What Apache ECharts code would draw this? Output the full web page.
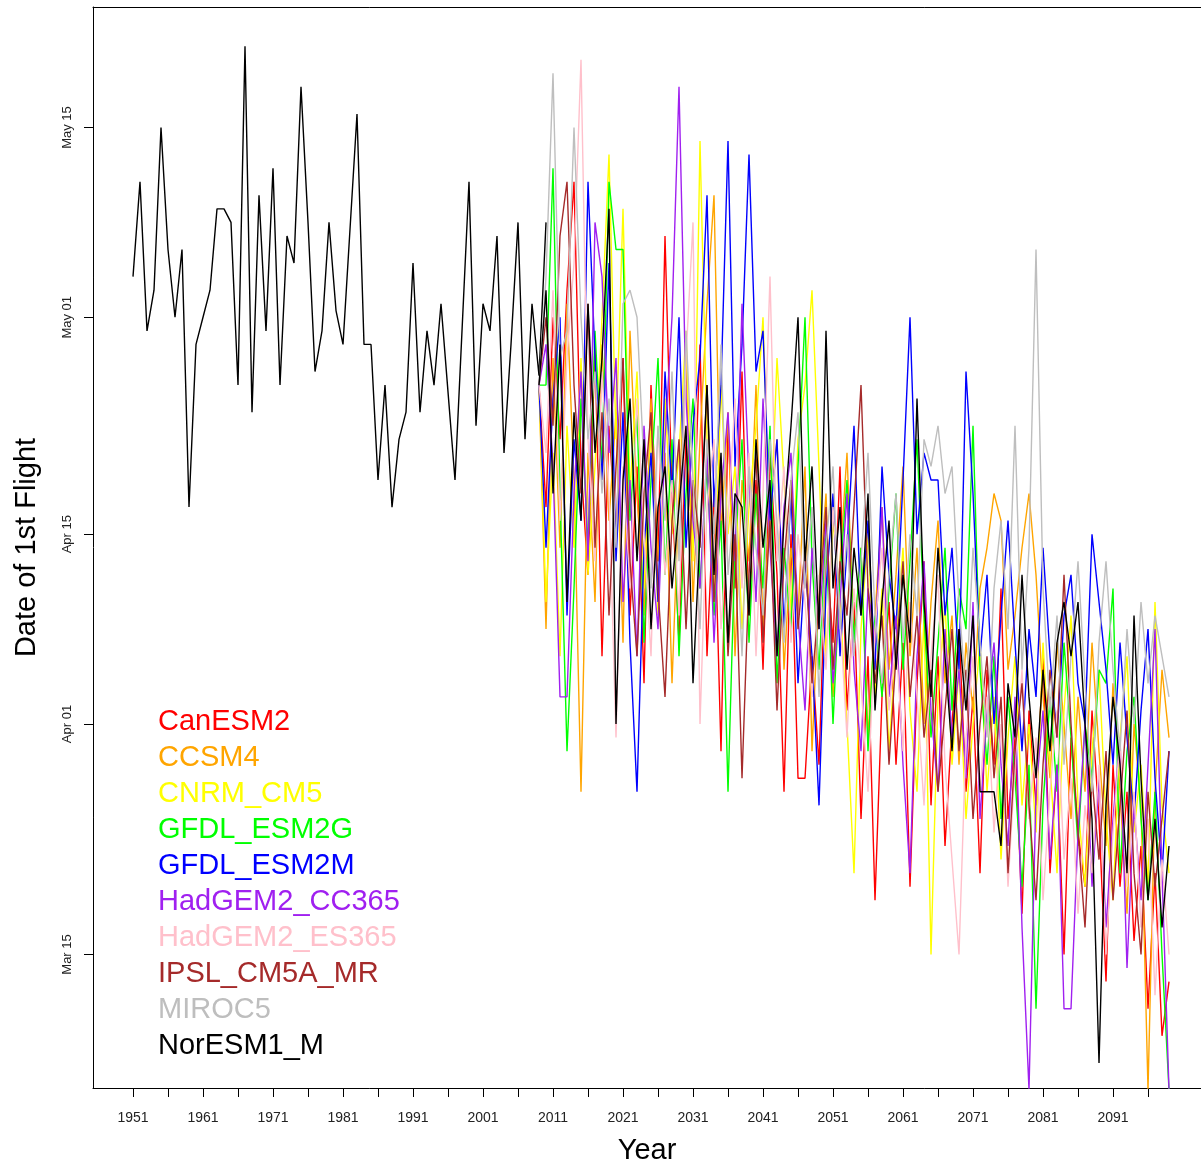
<!DOCTYPE html>
<html><head><meta charset="utf-8">
<script src="https://cdn.jsdelivr.net/npm/echarts@6/dist/echarts.min.js"></script>
<style>html,body{margin:0;padding:0;background:#fff}#c{width:1201px;height:1163px}</style>
</head><body><div id="c"></div>
<script>
// ---- Data (day of year of first flight) ----
const histStart = 1951;
const histValues = [
 124,131,120,123,135,126,121,126,107,119,
 121,123,129,129,128,116,141,114,130,120,
 132,116,127,125,138,128,117,120,128,121.5,
 119,127.5,136,119,119,109,116,107,112,114,
 125,114,120,116,122,115.5,109,120,131,113,
 122,120,127,111,119,128,112,122,116.7,128
];
const modelStart = 2009;
const modelNames = ['CanESM2','CCSM4','CNRM_CM5','GFDL_ESM2G','GFDL_ESM2M','HadGEM2_CC365','HadGEM2_ES365','IPSL_CM5A_MR','MIROC5','NorESM1_M'];
const modelColors = ['#FF0000','#FFA500','#FFFF00','#00FF00','#0000FF','#A020F0','#FFC0CB','#A52A2A','#BEBEBE','#000000'];
const CanESM2 = [
 116,107,121,112,123,131,110,102,119,96,
 113,105,118,99,110,94,116,103,127,108,
 97,112,104,119,96,108,89,113,101,117,
 99,109,95,111,102,86,105,87,87,96,
 88,104,97,110,92,100,84,96,78,93,
 100,88,97,79,94,103,85,96,82,91,
 98,86,93,80,95,88,101,84,90,77,
 92,85,96,80,88,74,90,83,79,92,
 84,72,88,79,86,75,82,70,80,68,72];
const CCSM4 = [
 116,98,118,104,122,109,86,111,100,119,
 106,114,97,120,108,99,115,103,111,94,
 108,118,100,112,122,130,105,114,96,109,
 103,116,98,107,112,95,104,99,110,89,
 101,108,93,103,111,97,104,90,99,107,
 95,102,110,96,104,91,100,106,94,99,
 88,97,92,101,104,108,106,95,99,104,
 108,102,93,87,97,91,84,93,86,97,
 89,82,94,86,77,91,85,64,86,95,90];
const CNRM_CM5 = [
 116,100,111,96,113,104,118,102,110,121,
 133,112,129,108,117,101,113,99,115,105,
 111,120,103,134,112,100,116,105,110,98,
 107,113,121,104,118,109,99,112,116,123,
 110,96,106,100,91,80,98,105,93,101,
 89,97,104,92,86,99,74,93,100,88,
 95,84,91,97,86,93,81,90,96,85,
 91,83,97,88,80,92,99,85,79,89,
 95,84,78,90,96,83,88,79,100,85,80];
const GFDL_ESM2G = [
 116,116,132,108,89,101,115,104,120,110,
 131,126,126,106,114,97,109,118,102,112,
 96,108,115,101,110,99,106,86,104,112,
 97,108,101,113,94,104,98,110,121,103,
 95,105,91,102,109,97,104,89,99,93,
 101,108,95,103,112,99,90,97,104,92,
 101,98,113,95,88,96,84,93,87,79,
 88,70,85,93,86,97,90,82,91,87,
 95,94,101,80,89,93,84,78,86,74,64];
const GFDL_ESM2M = [
 116,104,115,121,99,112,106,131,118,109,
 125,103,114,97,86,104,111,100,117,108,
 121,104,113,118,130,107,116,134,110,119,
 133,117,120,106,112,98,108,94,103,96,
 85,101,108,96,104,113,99,106,95,110,
 102,98,109,121,105,111,109,109,99,104,
 95,117,108,96,102,91,99,106,97,89,
 98,93,104,96,90,99,102,94,91,105,
 100,95,88,97,90,84,92,98,87,80,89];
const HadGEM2_CC365 = [
 116,119,110,93,93,108,117,103,128,124,
 111,118,100,109,96,113,104,98,112,121,
 138,115,106,101,111,97,108,114,103,122,
 109,100,115,104,96,107,111,99,92,104,
 98,106,94,100,108,95,89,101,97,107,
 93,99,88,80,96,103,92,86,98,90,
 95,87,100,84,92,97,88,82,93,76,
 64,86,92,81,88,70,70,83,91,79,
 87,76,84,90,73,85,78,88,98,80,64];
const HadGEM2_ES365 = [
 116,111,123,106,118,125,140,112,103,117,
 108,90,110,101,115,105,96,113,102,109,
 99,118,128,91,107,112,98,106,115,101,
 111,96,108,124,103,110,97,105,100,93,
 102,95,107,99,90,101,94,86,98,104,
 92,97,89,100,93,85,96,102,88,81,
 74,90,96,86,93,83,91,79,88,95,
 84,90,78,86,92,81,87,77,85,80,
 88,74,83,90,79,86,76,84,71,81,74];
const IPSL_CM5A_MR = [
 116,121,113,127,131,116,108,122,104,114,
 99,110,118,103,96,108,114,101,93,106,
 112,98,109,104,116,100,110,96,105,87,
 102,111,97,106,92,103,109,98,104,94,
 100,107,95,103,99,107,116,101,94,99,
 88,96,103,93,99,90,95,86,92,98,
 89,95,84,91,96,87,93,80,89,94,
 85,78,88,95,90,102,91,83,76,87,
 81,89,78,85,92,80,74,86,79,84,89];
const MIROC5 = [
 116,124,139,118,120,135,121,112,117,108,
 115,104,122,123,121,110,101,113,106,117,
 103,120,109,98,112,105,119,102,108,96,
 110,104,99,112,106,97,109,114,101,107,
 93,104,110,98,105,96,103,111,99,94,
 102,108,97,105,99,112,110,113,108,110,
 100,93,104,97,90,101,106,98,113,95,
 104,126,101,92,99,88,96,103,94,86,
 97,103,95,89,98,91,100,94,99,96,93];
const NorESM1_M = [
 116,123,108,119,100,114,106,122,111,118,
 129,91,109,115,103,112,98,107,110,101,
 107,113,94,105,116,102,111,97,108,107,
 99,112,104,109,96,106,113,121,103,110,
 98,120,101,107,95,104,99,108,92,100,
 106,95,102,97,115,100,93,104,96,89,
 98,92,99,86,86,86,82,94,90,102,
 93,87,95,89,97,100,96,100,91,84,
 66,85,93,88,80,99,87,78,84,76,82];
const modelValues = [CanESM2, CCSM4, CNRM_CM5, GFDL_ESM2G, GFDL_ESM2M, HadGEM2_CC365, HadGEM2_ES365, IPSL_CM5A_MR, MIROC5, NorESM1_M];

const xTickYears = [1951,1956,1961,1966,1971,1976,1981,1986,1991,1996,2001,2006,2011,2016,2021,2026,2031,2036,2041,2046,2051,2056,2061,2066,2071,2076,2081,2086,2091,2096];
const xLabelYears = [1951,1961,1971,1981,1991,2001,2011,2021,2031,2041,2051,2061,2071,2081,2091];
const yTickDays = [74,91,105,121,135];
const yTickLabels = ['Mar 15','Apr 01','Apr 15','May 01','May 15'];

// ---- Chart ----
function toPairs(start, arr){ return arr.map((v,i)=>[start+i, v]); }
const FONT = '"Liberation Sans", Arial, sans-serif';
const chart = echarts.init(document.getElementById('c'), null, {renderer:'canvas'});

const LW = 1.4;
const series = [{
  type:'line', name:'Observed', data: toPairs(histStart, histValues),
  symbol:'none', silent:true, lineStyle:{color:'#000', width:LW}, itemStyle:{color:'#000'}
}];
modelNames.forEach((n,i)=>{
  series.push({type:'line', name:n, data: toPairs(modelStart, modelValues[i]),
    symbol:'none', silent:true, lineStyle:{color:modelColors[i], width:LW}, itemStyle:{color:modelColors[i]}});
});

const XMIN = 1945.286, XMAX = 2103.57;
chart.setOption({
  animation:false,
  backgroundColor:'#ffffff',
  grid:{left:93, top:7, right:0, bottom:75, show:false, containLabel:false, outerBoundsMode:'none'},
  xAxis:[{
    type:'value', min:XMIN, max:XMAX, position:'bottom',
    splitLine:{show:false}, axisLine:{show:true, onZero:false, lineStyle:{color:'#000', width:1}},
    axisTick:{show:true, customValues:xTickYears, length:9, lineStyle:{color:'#000'}},
    axisLabel:{customValues:xLabelYears, fontSize:14, color:'#222', margin:23, fontFamily:FONT,
      formatter:(v)=>String(Math.round(v))},
    name:'Year', nameLocation:'middle', nameGap:48,
    nameTextStyle:{fontSize:29, color:'#000', fontFamily:FONT}
  },{
    type:'value', min:XMIN, max:XMAX, position:'top',
    splitLine:{show:false}, axisLine:{show:true, onZero:false, lineStyle:{color:'#000', width:1}},
    axisTick:{show:false}, axisLabel:{show:false}
  }],
  yAxis:{
    type:'value', min:64.15, max:143.889,
    splitLine:{show:false}, axisLine:{show:true, onZero:false, lineStyle:{color:'#000', width:1}},
    axisTick:{show:true, customValues:yTickDays, length:9, lineStyle:{color:'#000'}},
    axisLabel:{customValues:yTickDays, rotate:90, fontSize:13, color:'#222', margin:19, fontFamily:FONT,
      formatter:(v)=>{const k=yTickDays.indexOf(Math.round(v)); return k>=0?yTickLabels[k]:'';}},
    name:'Date of 1st Flight', nameLocation:'middle', nameGap:52, nameRotate:90,
    nameTextStyle:{fontSize:29, color:'#000', fontFamily:FONT}
  },
  legend:{
    orient:'vertical', left:153, top:704, padding:0, icon:'none', itemWidth:0, itemHeight:10, itemGap:0,
    selectedMode:false,
    textStyle:{fontSize:29, fontFamily:FONT, lineHeight:36},
    data: modelNames.map((n,i)=>({name:n, textStyle:{color:modelColors[i]}}))
  },
  series: series
});
</script></body></html>
